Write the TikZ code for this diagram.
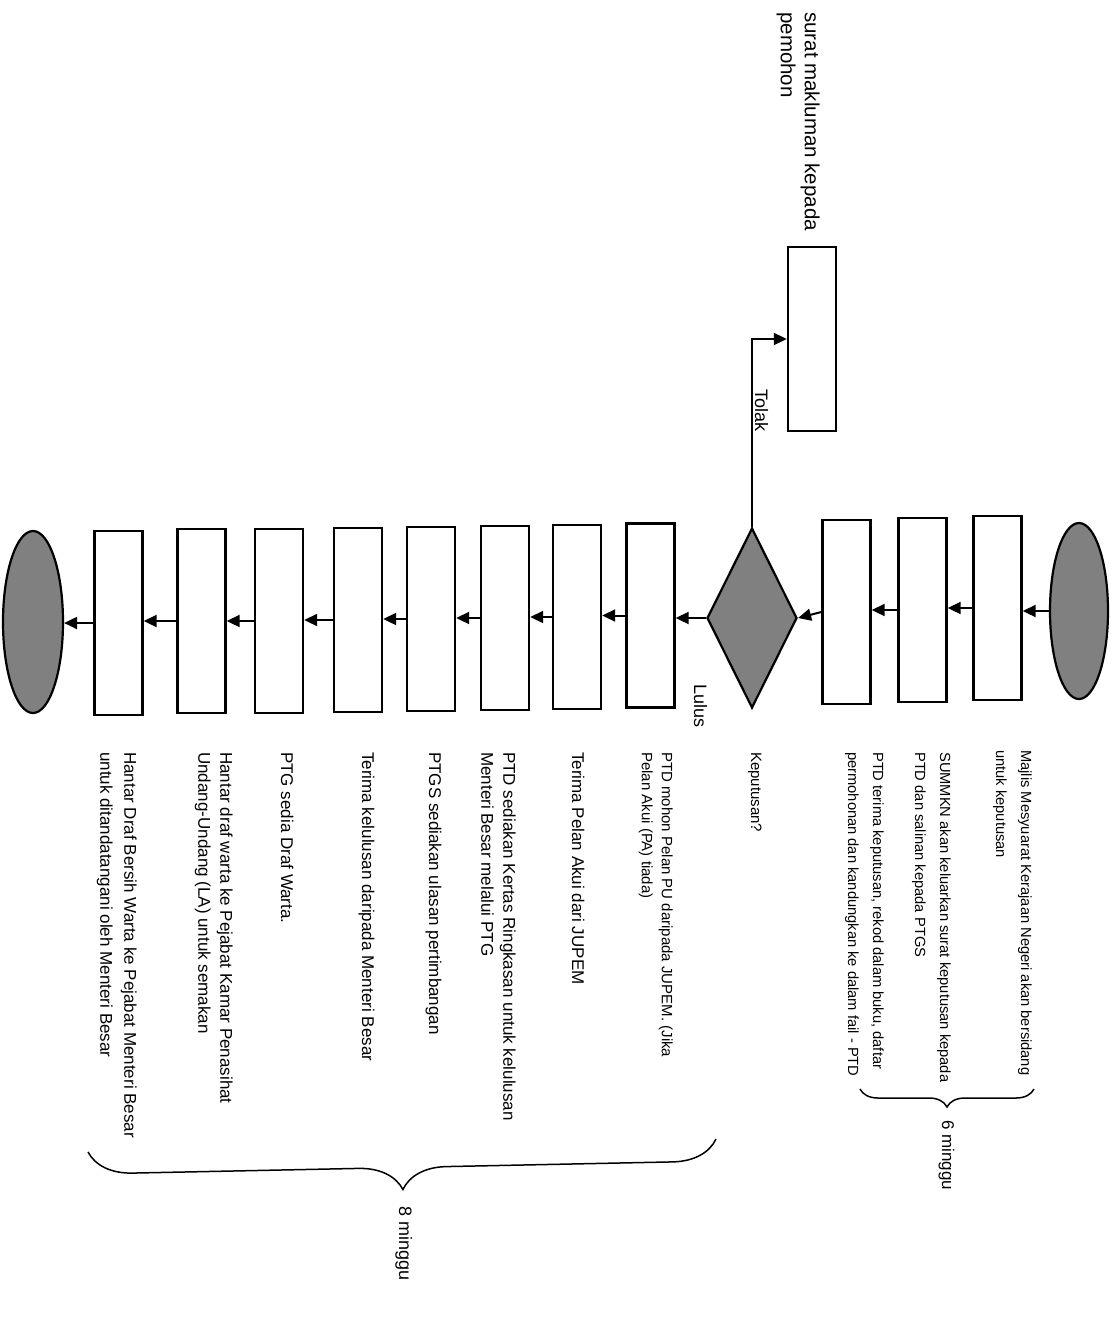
\documentclass[tikz,border=0pt]{standalone}
\usepackage{fontspec}
\setmainfont{Liberation Sans}
\usetikzlibrary{shapes.geometric,arrows.meta,decorations.pathreplacing}
\begin{document}
\begin{tikzpicture}[x=1pt,y=-1pt,
  box/.style={draw, line width=2.4pt, minimum width=48pt, minimum height=184pt, inner sep=0pt},
  term/.style={draw, ellipse, line width=2.2pt, fill=black!50, inner sep=0pt, minimum width=58pt, minimum height=176pt},
  decbox/.style={draw, diamond, line width=2.2pt, fill=black!50, inner sep=0pt, minimum width=90pt, minimum height=180pt, aspect=0.5},
  arr/.style={line width=2pt, -{Triangle[length=13pt,width=12pt]}},
  rfont/.style={font=\fontsize{14.7}{25}\selectfont},
  lfont/.style={font=\fontsize{17}{22}\selectfont},
  desc/.style={rotate=-90, anchor=north west, align=left, inner sep=0pt},
  lab/.style={rotate=-90, anchor=base west, inner sep=0pt},
  brc/.style={line width=1.5pt, decorate, decoration={brace, amplitude=#1}}
]
\useasboundingbox (0,0) rectangle (1118,1342);

% flow shapes
\node[term] (start) at (1079,611) {};
\node[box] (b1) at (997.5,608) {};
\node[box] (b2) at (922.5,610) {};
\node[box] (b3) at (846.5,612) {};
\node[decbox] (dec) at (752,618) {};
\node[box] (rej) at (812,339) {};
\node[box] (b4) at (650.5,615.5) {};
\node[box] (b5) at (577,617) {};
\node[box] (b6) at (505,618) {};
\node[box] (b7) at (431,619) {};
\node[box] (b8) at (358,620) {};
\node[box] (b9) at (279,621) {};
\node[box] (b10) at (201.5,621) {};
\node[box] (b11) at (118.5,623) {};
\node[term, minimum width=60pt, minimum height=182pt] (end) at (33,622) {};

% connectors
\draw[arr] (start.west) -- (start.west -| b1.east);
\draw[arr] (b1.west) -- (b1.west -| b2.east);
\draw[arr] (b2.west) -- (b2.west -| b3.east);
\draw[arr] (b3.west) -- (dec.east);
\draw[arr] (dec.west) -- (dec.west -| b4.east);
\draw[arr] (b4.west) -- (b4.west -| b5.east);
\draw[arr] (b5.west) -- (b5.west -| b6.east);
\draw[arr] (b6.west) -- (b6.west -| b7.east);
\draw[arr] (b7.west) -- (b7.west -| b8.east);
\draw[arr] (b8.west) -- (b8.west -| b9.east);
\draw[arr] (b9.west) -- (b9.west -| b10.east);
\draw[arr] (b10.west) -- (b10.west -| b11.east);
\draw[arr] (b11.west) -- (b11.west -| end.east);
\draw[arr] (dec.north) |- (rej.west);

% labels
\node[lab, font=\fontsize{18}{22}\selectfont] (tolak) at (755,389) {Tolak};
\node[lab, font=\fontsize{18}{22}\selectfont] (lulus) at (694,684) {Lulus};
\node[desc, font=\fontsize{20.5}{24}\selectfont] (surat) at (820,12) {surat makluman kepada\\pemohon};

% descriptions
\node[desc, rfont] (t1) at (1032,750) {Majlis Mesyuarat Kerajaan Negeri akan bersidang\\untuk keputusan};
\node[desc, rfont] (t2) at (951,752) {SUMMKN akan keluarkan surat keputusan kepada\\PTD dan salinan kepada PTGS};
\node[desc, rfont] (t3) at (884,752) {PTD terima keputusan, rekod dalam buku, daftar\\permohonan dan kandungkan ke dalam fail - PTD};
\node[lab, font=\fontsize{15}{22}\selectfont] (tk) at (751,752) {Keputusan?};
\node[desc, font=\fontsize{15}{20}\selectfont] (t4) at (673,752) {PTD mohon Pelan PU daripada JUPEM. (Jika\\Pelan Akui (PA) tiada)};
\node[lab, lfont] (t5) at (572,752) {Terima Pelan Akui dari JUPEM};
\node[desc, lfont] (t6) at (516,752) {PTD sediakan Kertas Ringkasan untuk kelulusan\\Menteri Besar melalui PTG};
\node[lab, lfont] (t7) at (429,752) {PTGS sediakan ulasan pertimbangan};
\node[lab, lfont] (t8) at (362,752) {Terima kelulusan daripada Menteri Besar};
\node[lab, lfont] (t9) at (281,752) {PTG sedia Draf Warta.};
\node[desc, lfont] (t10) at (233,752) {Hantar draf warta ke Pejabat Kamar Penasihat\\Undang-Undang (LA) untuk semakan};
\node[desc, font=\fontsize{17}{24}\selectfont] (t11) at (137,752) {Hantar Draf Bersih Warta ke Pejabat Menteri Besar\\untuk ditandatangani oleh Menteri Besar};

% braces
\coordinate (s6a) at (1034,1089);
\coordinate (s6b) at (860,1089);
\draw[brc=18pt] (s6a) -- (s6b);
\node[lab, lfont] (w6) at (942,1120) {6 minggu};
\coordinate (s8a) at (716,1139);
\coordinate (s8b) at (88,1152);
\draw[brc=44pt] (s8a) -- (s8b);
\node[lab, font=\fontsize{18}{22}\selectfont] (w8) at (399,1206) {8 minggu};
\end{tikzpicture}
\end{document}
